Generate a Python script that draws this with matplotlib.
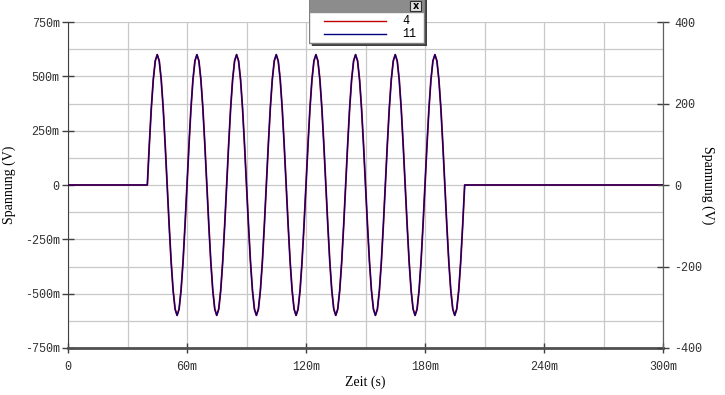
import numpy as np
import matplotlib.pyplot as plt
from matplotlib.patches import Rectangle
from matplotlib.ticker import FuncFormatter, MultipleLocator

# one period of the 50 Hz burst, sampled every 1 ms (V)
cycle = [0.0, 0.185, 0.353, 0.485, 0.571, 0.600, 0.571, 0.485, 0.353, 0.185,
         0.0, -0.185, -0.353, -0.485, -0.571, -0.600, -0.571, -0.485, -0.353, -0.185]
n_cycles = 8
lead_zeros = 40     # samples before the burst (0 .. 39 ms)
tail_zeros = 101    # samples after the burst (200 .. 300 ms)
step = 0.001

v = np.concatenate([np.zeros(lead_zeros), np.tile(cycle, n_cycles), np.zeros(tail_zeros)])
t = np.arange(len(v)) * step

series_names = ["4", "11"]
series_colors = ["#c00000", "#000080"]

mono = "Liberation Mono"
serif = "Liberation Serif"

fig = plt.figure(figsize=(7.25, 3.95), dpi=100)
ax = fig.add_axes([68 / 725, 1 - 348 / 395, 595 / 725, 326 / 395])

ax.plot(t, v, color=series_colors[0], lw=1.3, zorder=3)
ax.plot(t, v, color=series_colors[1], lw=0.9, zorder=4)

ax.set_xlim(0, 0.3)
ax.set_ylim(-0.75, 0.75)
ax.xaxis.set_major_locator(MultipleLocator(0.06))
ax.xaxis.set_minor_locator(MultipleLocator(0.03))
ax.yaxis.set_major_locator(MultipleLocator(0.25))
ax.yaxis.set_minor_locator(MultipleLocator(0.125))


def milli(x, pos):
    if abs(x) < 1e-9:
        return "0"
    return "%dm" % round(x * 1000)


ax.xaxis.set_major_formatter(FuncFormatter(milli))
ax.yaxis.set_major_formatter(FuncFormatter(milli))
ax.grid(which="both", color="#c8c8c8", lw=0.9)
ax.set_axisbelow(True)
ax.tick_params(axis="y", which="major", direction="inout", length=8, width=1, color="#404040",
               labelsize=8.5, pad=2)
ax.tick_params(axis="y", which="minor", length=0)
ax.tick_params(axis="x", which="major", direction="inout", length=7, width=1, color="#404040",
               labelsize=8.5, pad=6)
ax.tick_params(axis="x", which="minor", length=0)
for lab in ax.get_xticklabels() + ax.get_yticklabels():
    lab.set_family(mono)
    lab.set_color("#303030")

ax.spines["top"].set_visible(False)
ax.spines["left"].set_color("#404040")
ax.spines["bottom"].set_color("#505050")
ax.spines["bottom"].set_linewidth(2)
ax.spines["right"].set_color("#606060")

ax.set_xlabel("Zeit (s)", family=serif, fontsize=10, labelpad=2)
ax.set_ylabel("Spannung (V)", family=serif, fontsize=10, labelpad=6)

ax2 = ax.twinx()
ax2.set_ylim(-400, 400)
ax2.yaxis.set_major_locator(MultipleLocator(200))
ax2.yaxis.set_major_formatter(FuncFormatter(lambda x, p: "%d" % x))
ax2.tick_params(axis="y", direction="inout", length=8, width=1, color="#404040",
                labelsize=8.5, pad=4)
for lab in ax2.get_yticklabels():
    lab.set_family(mono)
    lab.set_color("#303030")
for s in ["top", "left", "bottom"]:
    ax2.spines[s].set_visible(False)
ax2.spines["right"].set_color("#606060")
ax2.set_ylabel("Spannung (V)", family=serif, fontsize=10, rotation=270, labelpad=9)

# floating legend window
lg = fig.add_axes([309 / 725, 1 - 46 / 395, 118 / 725, 46 / 395])
lg.set_xlim(0, 118)
lg.set_ylim(46, 0)
lg.axis("off")
lg.add_patch(Rectangle((3, 0), 115, 46, color="#404040"))
lg.add_patch(Rectangle((0, -2), 115, 45, facecolor="white", edgecolor="#808080", lw=1))
lg.add_patch(Rectangle((0.5, -2), 114, 14, color="#8c8c8c"))
lg.add_patch(Rectangle((101, 1), 11, 10, facecolor="#e0e0e0", edgecolor="#303030", lw=0.8))
lg.text(106.5, 6.2, "x", ha="center", va="center", fontsize=7, fontweight="bold", family="DejaVu Sans")
for i, name in enumerate(series_names):
    y = 21 + i * 13
    lg.plot([15, 77], [y, y], color=series_colors[i], lw=1)
    lg.text(93, y, name, ha="left", va="center", fontsize=8.5, family=mono)

fig.savefig("out.png", dpi=100)
